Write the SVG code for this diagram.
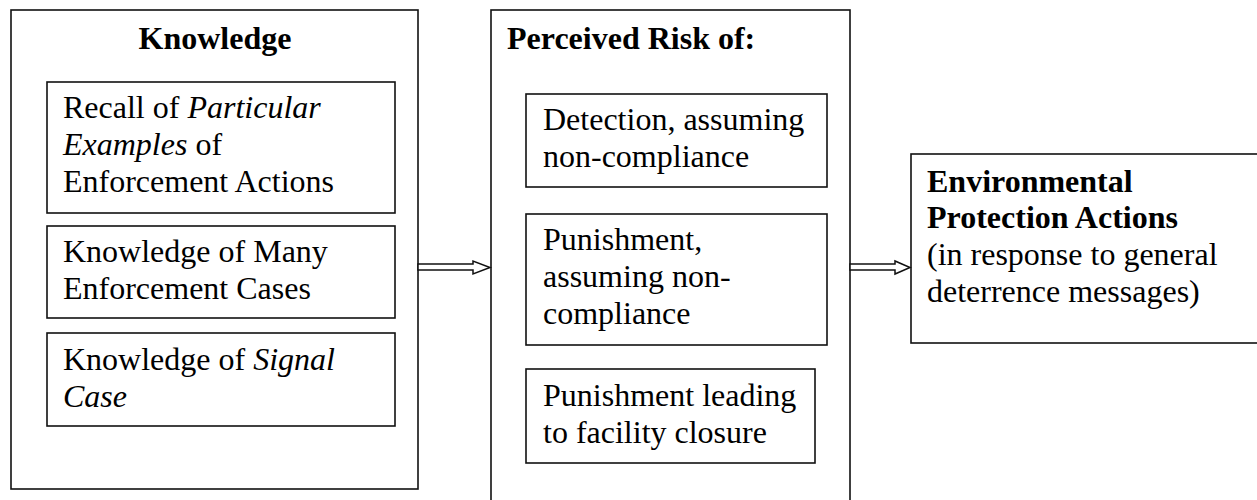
<svg xmlns="http://www.w3.org/2000/svg" width="1257" height="500" viewBox="0 0 1257 500">
<style>
  .box { fill: #fff; stroke: #111; stroke-width: 1.6; }
  .t { font-family: "Liberation Serif", "Times New Roman", serif; font-size: 32px; fill: #000; }
  .b { font-weight: bold; }
  .i { font-style: italic; }
  .arrow { fill: #fff; stroke: #111; stroke-width: 1.5; stroke-linejoin: miter; }
</style>
<rect width="1257" height="500" fill="#fff"/>
<g id="knowledge">
  <rect class="box" x="11" y="10" width="407" height="479"/>
  <text class="t b" x="215" y="49" text-anchor="middle">Knowledge</text>
</g>
<g id="recall">
  <rect class="box" x="47" y="82" width="348" height="131"/>
  <text class="t" x="63" y="118">Recall of <tspan class="i">Particular</tspan></text>
  <text class="t" x="63" y="155"><tspan class="i">Examples</tspan> of</text>
  <text class="t" x="63" y="192">Enforcement Actions</text>
</g>
<g id="many-cases">
  <rect class="box" x="47" y="226" width="348" height="92"/>
  <text class="t" x="63" y="262">Knowledge of Many</text>
  <text class="t" x="63" y="299">Enforcement Cases</text>
</g>
<g id="signal-case">
  <rect class="box" x="47" y="333" width="348" height="93"/>
  <text class="t" x="63" y="370">Knowledge of <tspan class="i">Signal</tspan></text>
  <text class="t" x="63" y="407"><tspan class="i">Case</tspan></text>
</g>
<g id="perceived-risk">
  <rect class="box" x="491" y="10" width="359" height="500"/>
  <text class="t b" x="507" y="49">Perceived Risk of:</text>
</g>
<g id="detection">
  <rect class="box" x="526" y="94" width="301" height="93"/>
  <text class="t" x="543" y="130">Detection, assuming</text>
  <text class="t" x="543" y="167">non-compliance</text>
</g>
<g id="punishment">
  <rect class="box" x="526" y="214" width="301" height="131"/>
  <text class="t" x="543" y="250">Punishment,</text>
  <text class="t" x="543" y="287">assuming non-</text>
  <text class="t" x="543" y="324">compliance</text>
</g>
<g id="closure">
  <rect class="box" x="526" y="369" width="289" height="94"/>
  <text class="t" x="543" y="406">Punishment leading</text>
  <text class="t" x="543" y="443">to facility closure</text>
</g>
<g id="environmental">
  <rect class="box" x="911" y="154" width="360" height="189"/>
  <text class="t b" x="927" y="192">Environmental</text>
  <text class="t b" x="927" y="228">Protection Actions</text>
  <text class="t" x="927" y="265">(in response to general</text>
  <text class="t" x="927" y="302">deterrence messages)</text>
</g>
<g id="connectors">
  <polygon class="arrow" points="418,264 473,264 473,261 490,267.5 473,274 473,270 418,270"/>
  <polygon class="arrow" points="850,264 895,264 895,261 910,267.5 895,274 895,270 850,270"/>
</g>
</svg>
